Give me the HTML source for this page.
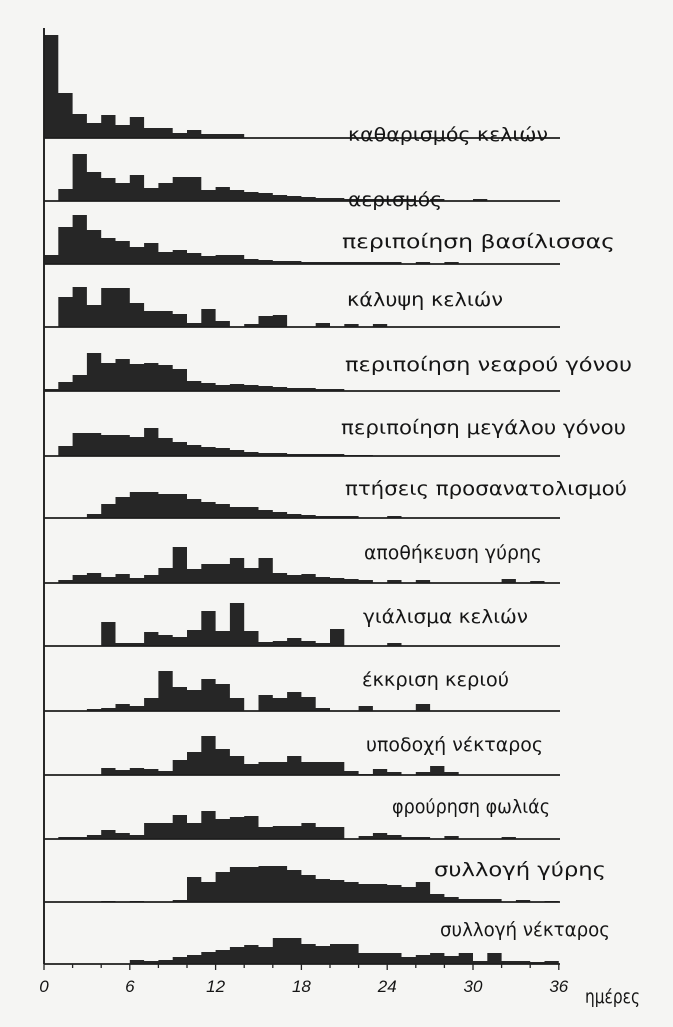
<!DOCTYPE html>
<html><head><meta charset="utf-8"><style>
html,body{margin:0;padding:0;background:#f5f5f3}
svg{display:block}
text{font-family:"DejaVu Sans","Liberation Sans",sans-serif;fill:#151515}
.tick{font-family:"Liberation Sans",sans-serif;font-style:italic;font-size:17px}
</style></head><body>
<svg id="chart" width="673" height="1027" viewBox="0 0 673 1027">
<rect width="673" height="1027" fill="#f5f5f3"/>
</svg>
<script>
const labels=["καθαρισμός κελιών","αερισμός","περιποίηση βασίλισσας","κάλυψη κελιών","περιποίηση νεαρού γόνου","περιποίηση μεγάλου γόνου","πτήσεις προσανατολισμού","αποθήκευση γύρης","γιάλισμα κελιών","έκκριση κεριού","υποδοχή νέκταρος","φρούρηση φωλιάς","συλλογή γύρης","συλλογή νέκταρος"];
const s1=[103,45,24,15,23,13,21,10,10,5,8,4,4,4];
const s2=[0,12,47,29,23,18,26,13,18,24,24,11,14,11,9,8,6,5,4,3,3,2,2,2,2,2,0,2,0,0,2];
const s3=[9,37,49,34,26,23,17,21,12,14,11,8,9,9,5,4,3,3,2,2,2,2,2,2,2,0,2,0,2];
const s4=[0,30,40,22,39,39,24,16,16,13,4,18,6,0,3,11,12,0,0,4,0,3,0,3];
const s5=[2,9,16,38,28,32,27,28,26,22,10,8,6,7,6,5,4,3,3,2,2];
const s6=[0,10,23,23,21,21,19,28,18,14,11,9,8,6,4,3,3,2,2,2,2,1,1];
const s7=[0,0,0,4,14,21,26,26,24,24,19,16,14,11,11,8,6,4,3,2,2,2,0,0,2];
const s8=[0,3,8,10,6,9,5,8,15,36,14,19,19,25,15,25,10,8,9,6,5,4,3,0,3,0,3,0,0,0,0,0,4,0,2];
const s9=[0,0,0,0,24,3,3,14,11,9,16,35,15,43,15,4,5,8,5,3,17,0,0,0,3];
const s10=[0,0,0,2,3,7,5,13,40,24,21,32,27,13,0,16,13,19,14,3,0,0,5,0,0,0,7];
const s11=[0,0,0,0,7,5,7,6,4,15,23,39,26,19,11,13,13,19,13,13,13,4,1,6,3,0,3,9,3];
const s12=[0,2,2,4,9,6,4,16,16,24,16,28,20,22,23,12,13,13,16,12,12,0,3,6,4,2,2,0,3,0,0,0,2];
const s13=[0,0,0,0,1,0,1,0,0,2,25,20,30,35,35,36,36,32,27,23,22,20,18,18,17,15,20,8,5,3,3,3,0,2,0,1];
const s14=[0,0,0,0,0,0,4,3,4,7,9,12,14,17,19,17,26,26,20,18,20,20,11,11,11,7,9,11,8,11,3,11,3,3,2,3];
const series=[s1,s2,s3,s4,s5,s6,s7,s8,s9,s10,s11,s12,s13,s14];
const baselines=[138,201,264,327,391,456,518,583,646,711,775,839,902,964];
const labelX=[348,348,342,347,345,341,345,364,363,362,366,392,434,440];
const labelW=[200,94,273,156,287,285,282,178,165,147,177,158,172,170];
const labelY=[141,206,248,306,371,434,495,559,623,686,751,813,876,936];
const tickDays=[0,6,12,18,24,30,36];
const tickLabels=["0","6","12","18","24","30","36"];

const NS="http://www.w3.org/2000/svg";
const svg=document.getElementById('chart');
const X0=44, DX=14.3;
function xs(d){return X0+d*DX;}
function hs(v){return v;}
function mk(tag,attrs,parent){const e=document.createElementNS(NS,tag);for(const k in attrs)e.setAttribute(k,attrs[k]);(parent||svg).appendChild(e);return e;}

series.forEach((s,i)=>{
  const g=mk('g',{});
  
  
  const b=baselines[i];
  let d='M'+xs(0)+' '+b;
  s.forEach((v,k)=>{d+=' L'+xs(k)+' '+(b-hs(v))+' L'+xs(k+1)+' '+(b-hs(v));});
  d+=' L'+xs(s.length)+' '+b+' Z';
  const p=mk('path',{d:d,fill:'#262626'},g);
  
  
  const ln=mk('line',{x1:X0,x2:560,y1:b,y2:b,stroke:'#1e1e1e','stroke-width':1.7},g);
  
  
  const t=mk('text',{x:labelX[i],y:labelY[i],'font-size':19,textLength:labelW[i],lengthAdjust:'spacingAndGlyphs'},g);
  t.textContent=labels[i];
  
  
});

const ax=mk('line',{x1:X0,x2:X0,y1:28,y2:964,stroke:'#1e1e1e','stroke-width':1.9});


for(let d=0;d<=36;d+=2){
  const tk=mk('line',{x1:xs(d),x2:xs(d),y1:964,y2:d%6===0?970:968,stroke:'#222','stroke-width':1.3});
  
  
}
tickDays.forEach((d,i)=>{
  const t=mk('text',{x:xs(d),y:992,'text-anchor':'middle',class:'tick'});
  t.textContent=tickLabels[i];
  
  
});
const xt=mk('text',{x:585,y:1003,'font-size':19,textLength:55,lengthAdjust:'spacingAndGlyphs'});
xt.textContent='ημέρες';


</script>
</body></html>
